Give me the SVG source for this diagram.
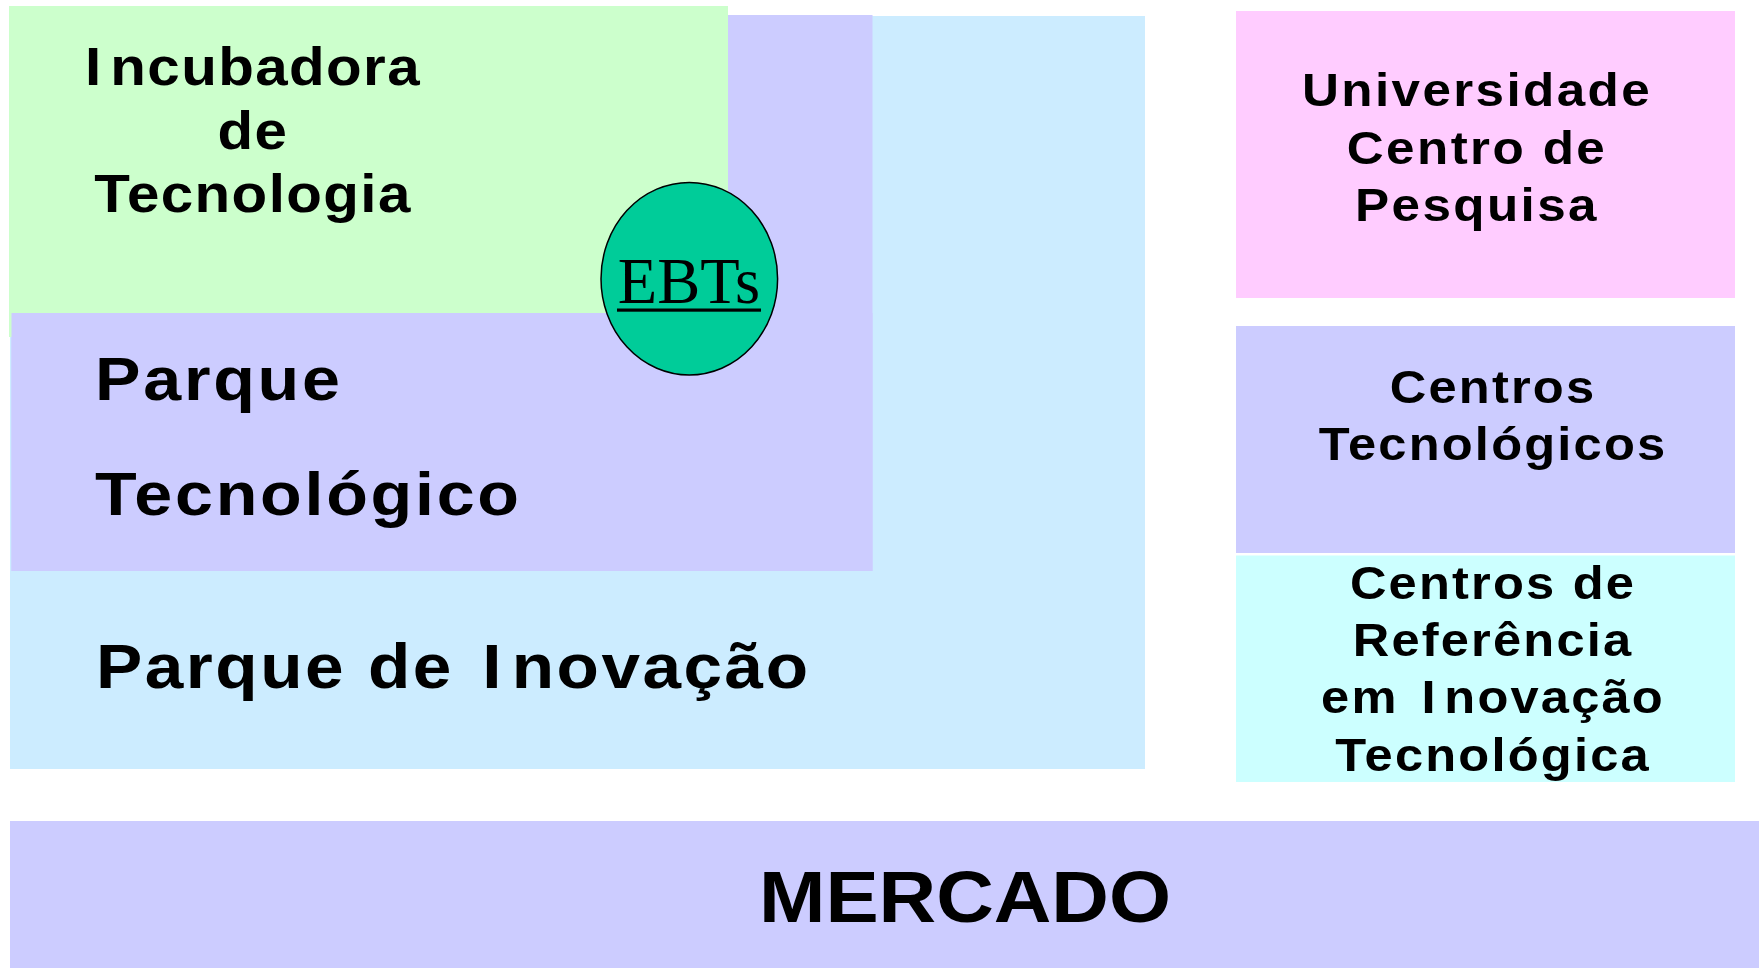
<svg xmlns="http://www.w3.org/2000/svg" width="1759" height="968" viewBox="0 0 1759 968">
<style>
.t{font-family:"Liberation Sans",Arial,sans-serif;font-weight:bold;fill:#000}
.m{text-anchor:middle}
.a{font-size:53px;letter-spacing:1.3px}
.b{font-size:62px;letter-spacing:2.5px}
.r{font-size:46.5px;letter-spacing:2.2px}
.q{font-size:46px;letter-spacing:2px}
</style>
<rect x="0" y="0" width="1759" height="968" fill="#ffffff"/>
<g id="parque-inovacao">
<rect x="10" y="16" width="1135" height="753" fill="#CCECFF"/>
<text class="t" transform="translate(96,688) scale(1.1,1)" font-size="63" letter-spacing="2.3">Parque de <tspan dx="6">I</tspan><tspan dx="7">novação</tspan></text>
</g>
<g id="parque-tecnologico">
<rect x="11.5" y="15" width="861" height="556" fill="#CCCCFF"/>
</g>
<g id="incubadora">
<rect x="9" y="6" width="719" height="331" fill="#CCFFCC"/>
<rect x="11.5" y="313" width="861" height="258" fill="#CCCCFF"/>
<text class="t m a" transform="translate(253,85) scale(1.1,1)">I<tspan dx="7">ncubadora</tspan></text>
<text class="t m a" transform="translate(253,148.5) scale(1.1,1)">de</text>
<text class="t m a" transform="translate(253,212) scale(1.1,1)">Tecnologia</text>
</g>
<g id="parque-tecnologico-label">
<text class="t b" transform="translate(95,400) scale(1.1,1)">Parque</text>
<text class="t b" transform="translate(95,515) scale(1.1,1)">Tecnológico</text>
</g>
<g id="ebts">
<ellipse cx="689.3" cy="278.7" rx="88.3" ry="96.3" fill="#00CC99" stroke="#000" stroke-width="1.5"/>
<text x="689" y="302.5" font-family="Liberation Serif,'Times New Roman',serif" font-size="64.5" text-anchor="middle" fill="#000">EBTs</text>
<rect x="617" y="308.5" width="144" height="3.2" fill="#000"/>
</g>
<g id="universidade">
<rect x="1236" y="11" width="499" height="287" fill="#FFCCFF"/>
<text class="t m r" transform="translate(1477,106) scale(1.1,1)">Universidade</text>
<text class="t m r" transform="translate(1477,164) scale(1.1,1)">Centro de</text>
<text class="t m r" transform="translate(1477,221) scale(1.1,1)">Pesquisa</text>
</g>
<g id="centros-tecnologicos">
<rect x="1236" y="326" width="499" height="227" fill="#CCCCFF"/>
<text class="t m q" transform="translate(1493,402.5) scale(1.1,1)">Centros</text>
<text class="t m q" transform="translate(1493,460) scale(1.1,1)">Tecnológicos</text>
</g>
<g id="centros-referencia">
<rect x="1236" y="555.5" width="499" height="226.5" fill="#CCFFFF"/>
<text class="t m q" transform="translate(1493,598.5) scale(1.1,1)">Centros de</text>
<text class="t m q" transform="translate(1493,655.5) scale(1.1,1)">Referência</text>
<text class="t m q" transform="translate(1493,713) scale(1.1,1)">em <tspan dx="6">I</tspan><tspan dx="6">novação</tspan></text>
<text class="t m q" transform="translate(1493,770.5) scale(1.1,1)">Tecnológica</text>
</g>
<g id="mercado">
<rect x="10" y="821" width="1749" height="147" fill="#CCCCFF"/>
<text class="t m" transform="translate(965,922) scale(1.1,1)" font-size="72.5">MERCADO</text>
</g>
<g id="connectors"></g>
</svg>
